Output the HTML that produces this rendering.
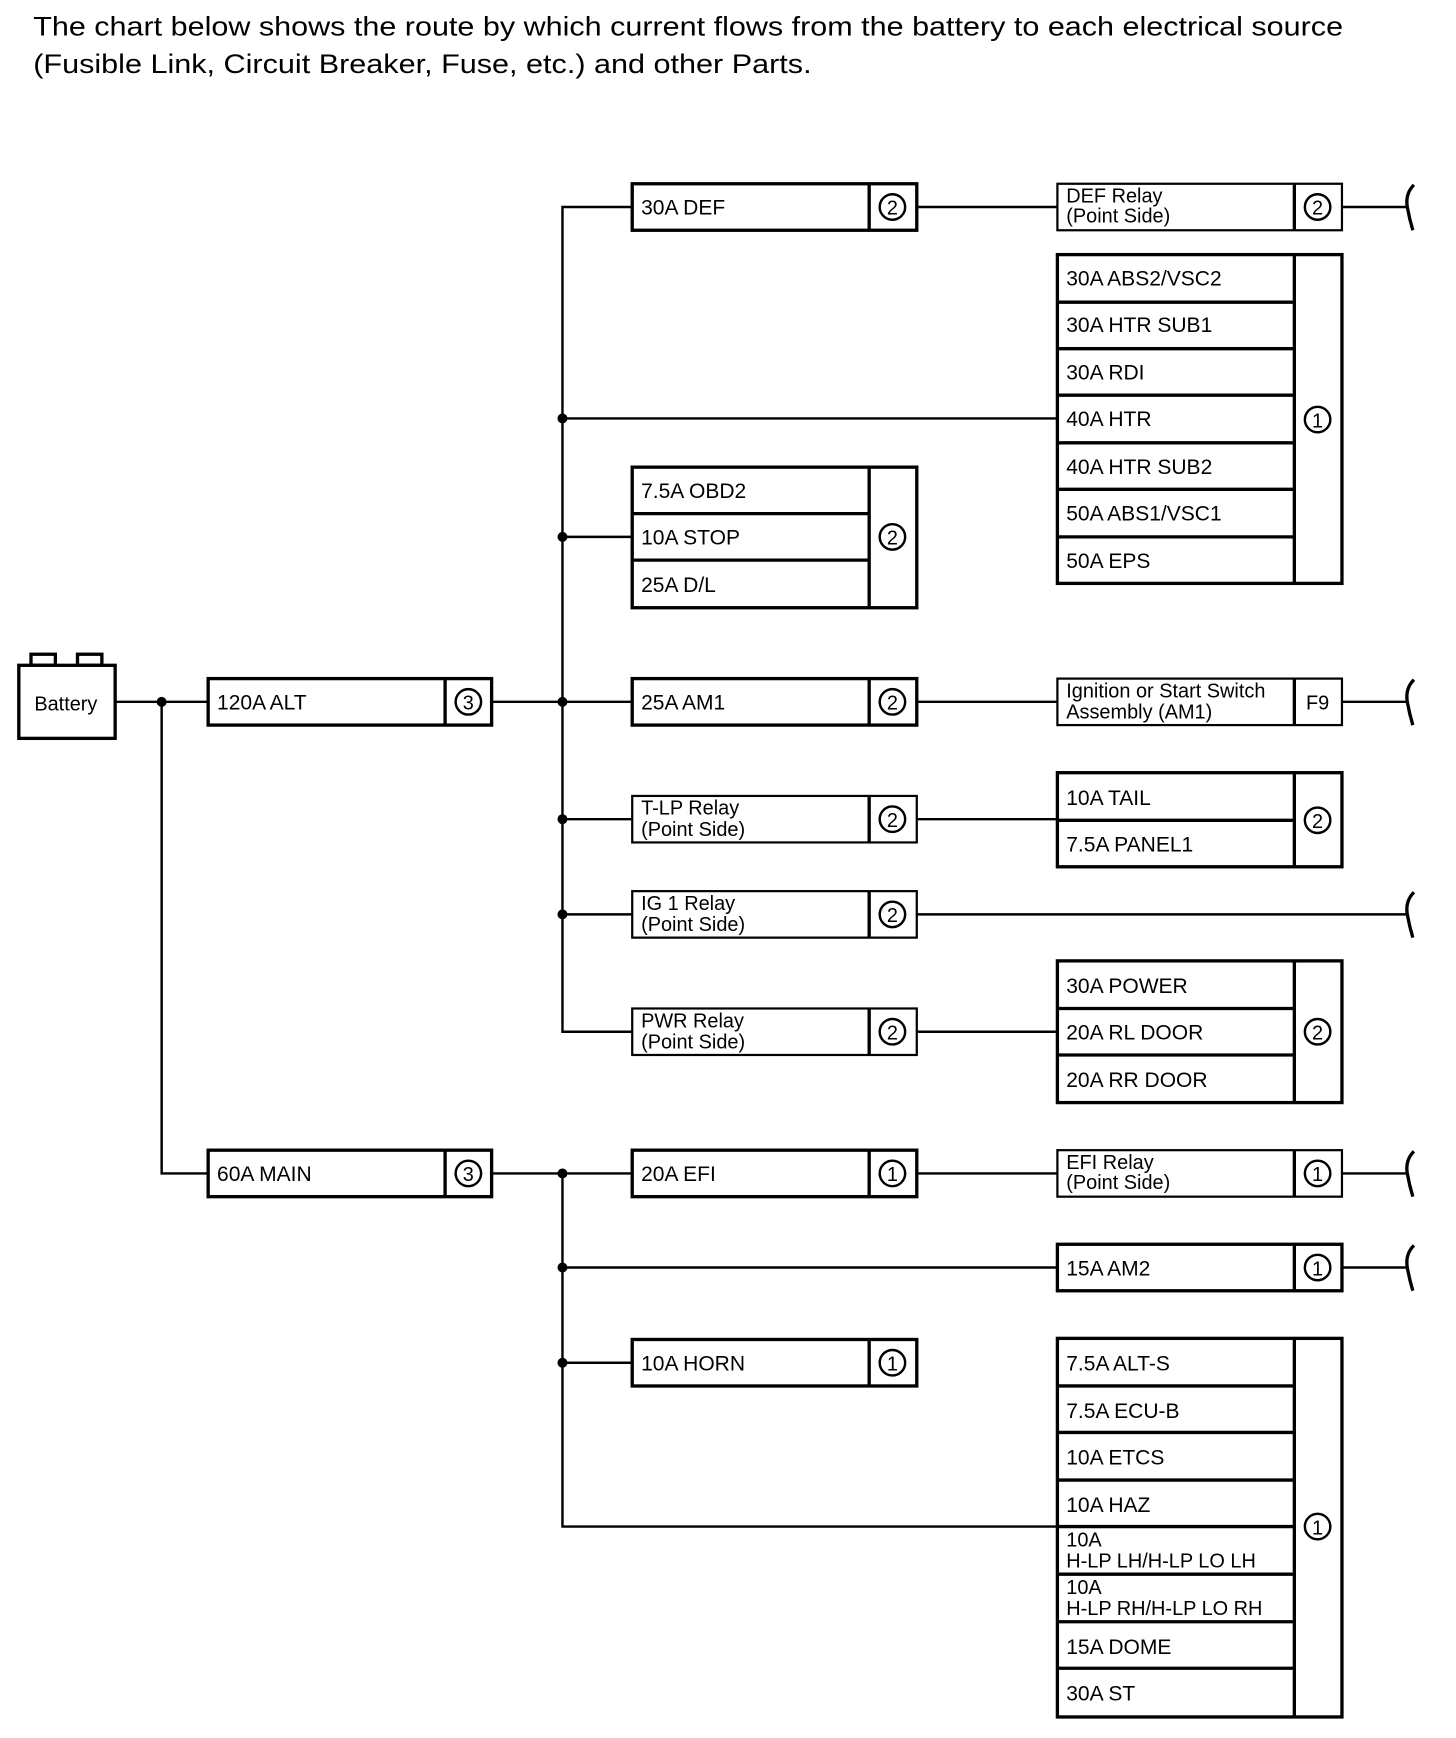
<!DOCTYPE html>
<html><head><meta charset="utf-8"><style>
html,body{margin:0;padding:0;background:#fff;}
svg{display:block;}
text{font-family:"Liberation Sans",Arial,sans-serif;fill:#000;}
</style></head><body>
<svg width="1456" height="1738" viewBox="0 0 1315 1570" preserveAspectRatio="none" xmlns="http://www.w3.org/2000/svg">
<text x="30" y="32" font-size="24" textLength="1183" lengthAdjust="spacingAndGlyphs">The chart below shows the route by which current flows from the battery to each electrical source</text>
<text x="30" y="66" font-size="24" textLength="703" lengthAdjust="spacingAndGlyphs">(Fusible Link, Circuit Breaker, Fuse, etc.) and other Parts.</text>

<g stroke="#000" stroke-width="2.2" fill="none">
<line x1="104" y1="634" x2="188" y2="634"/>
<polyline points="146,634 146,1060 188,1060"/>
<line x1="444" y1="634" x2="571" y2="634"/>
<polyline points="571,187 508,187 508,932 571,932"/>
<line x1="508" y1="378" x2="955" y2="378"/>
<line x1="508" y1="485" x2="571" y2="485"/>
<line x1="508" y1="740" x2="571" y2="740"/>
<line x1="508" y1="826" x2="571" y2="826"/>
<line x1="828" y1="187" x2="955" y2="187"/>
<line x1="1212" y1="187" x2="1270" y2="187"/>
<line x1="828" y1="634" x2="955" y2="634"/>
<line x1="1212" y1="634" x2="1270" y2="634"/>
<line x1="828" y1="740" x2="955" y2="740"/>
<line x1="828" y1="826" x2="1270" y2="826"/>
<line x1="828" y1="932" x2="955" y2="932"/>
<line x1="444" y1="1060" x2="571" y2="1060"/>
<polyline points="508,1060 508,1379 955,1379"/>
<line x1="828" y1="1060" x2="955" y2="1060"/>
<line x1="1212" y1="1060" x2="1270" y2="1060"/>
<line x1="508" y1="1145" x2="955" y2="1145"/>
<line x1="1212" y1="1145" x2="1270" y2="1145"/>
<line x1="508" y1="1231" x2="571" y2="1231"/>
</g>
<g stroke="#000" stroke-width="3" fill="none">
<path d="M1277,167 Q1269,175 1271,187 Q1273,198 1276,208"/>
<path d="M1277,614 Q1269,622 1271,634 Q1273,645 1276,655"/>
<path d="M1277,806 Q1269,814 1271,826 Q1273,837 1276,847"/>
<path d="M1277,1040 Q1269,1048 1271,1060 Q1273,1071 1276,1081"/>
<path d="M1277,1125 Q1269,1133 1271,1145 Q1273,1156 1276,1166"/>
</g>
<g fill="#000">
<circle cx="146" cy="634" r="4.5"/>
<circle cx="508" cy="378" r="4.5"/>
<circle cx="508" cy="485" r="4.5"/>
<circle cx="508" cy="634" r="4.5"/>
<circle cx="508" cy="740" r="4.5"/>
<circle cx="508" cy="826" r="4.5"/>
<circle cx="508" cy="1060" r="4.5"/>
<circle cx="508" cy="1145" r="4.5"/>
<circle cx="508" cy="1231" r="4.5"/>
</g>

<g stroke="#000" stroke-width="3" fill="#fff">
<rect x="28" y="591" width="22" height="10"/>
<rect x="70" y="591" width="22" height="10"/>
<rect x="17" y="601" width="87" height="66"/>
</g>
<text x="31" y="642" font-size="18">Battery</text>

<g stroke="#000" stroke-width="3" fill="#fff">
<rect x="188" y="613" width="256" height="42"/><line x1="402" y1="613" x2="402" y2="655"/>
<rect x="188" y="1039" width="256" height="42"/><line x1="402" y1="1039" x2="402" y2="1081"/>
<rect x="571" y="166" width="257" height="42"/><line x1="785" y1="166" x2="785" y2="208"/>
<rect x="571" y="422" width="257" height="127"/><line x1="785" y1="422" x2="785" y2="549"/>
<line x1="571" y1="464" x2="785" y2="464"/><line x1="571" y1="506" x2="785" y2="506"/>
<rect x="571" y="613" width="257" height="42"/><line x1="785" y1="613" x2="785" y2="655"/>
<rect x="571" y="719" width="257" height="42" stroke-width="2"/><line x1="785" y1="719" x2="785" y2="761"/>
<rect x="571" y="805" width="257" height="42" stroke-width="2"/><line x1="785" y1="805" x2="785" y2="847"/>
<rect x="571" y="911" width="257" height="42" stroke-width="2"/><line x1="785" y1="911" x2="785" y2="953"/>
<rect x="571" y="1039" width="257" height="42"/><line x1="785" y1="1039" x2="785" y2="1081"/>
<rect x="571" y="1210" width="257" height="42"/><line x1="785" y1="1210" x2="785" y2="1252"/>
<rect x="955" y="166" width="257" height="42" stroke-width="2"/><line x1="1169" y1="166" x2="1169" y2="208"/>
<rect x="955" y="230" width="257" height="297"/><line x1="1169" y1="230" x2="1169" y2="527"/>
<line x1="955" y1="273" x2="1169" y2="273"/><line x1="955" y1="315" x2="1169" y2="315"/>
<line x1="955" y1="357" x2="1169" y2="357"/><line x1="955" y1="400" x2="1169" y2="400"/>
<line x1="955" y1="442" x2="1169" y2="442"/><line x1="955" y1="485" x2="1169" y2="485"/>
<rect x="955" y="613" width="257" height="42" stroke-width="2"/><line x1="1169" y1="613" x2="1169" y2="655"/>
<rect x="955" y="698" width="257" height="85"/><line x1="1169" y1="698" x2="1169" y2="783"/>
<line x1="955" y1="741" x2="1169" y2="741"/>
<rect x="955" y="868" width="257" height="128"/><line x1="1169" y1="868" x2="1169" y2="996"/>
<line x1="955" y1="911" x2="1169" y2="911"/><line x1="955" y1="953" x2="1169" y2="953"/>
<rect x="955" y="1039" width="257" height="42" stroke-width="2"/><line x1="1169" y1="1039" x2="1169" y2="1081"/>
<rect x="955" y="1124" width="257" height="42"/><line x1="1169" y1="1124" x2="1169" y2="1166"/>
<rect x="955" y="1209" width="257" height="342"/><line x1="1169" y1="1209" x2="1169" y2="1551"/>
<line x1="955" y1="1252" x2="1169" y2="1252"/><line x1="955" y1="1294" x2="1169" y2="1294"/>
<line x1="955" y1="1337" x2="1169" y2="1337"/><line x1="955" y1="1379" x2="1169" y2="1379"/>
<line x1="955" y1="1422" x2="1169" y2="1422"/><line x1="955" y1="1465" x2="1169" y2="1465"/>
<line x1="955" y1="1507" x2="1169" y2="1507"/>
</g>

<g stroke="#000" stroke-width="2.2" fill="none">
<circle cx="423" cy="634" r="11.5"/><circle cx="423" cy="1060" r="11.5"/>
<circle cx="806" cy="187" r="11.5"/><circle cx="806" cy="485" r="11.5"/><circle cx="806" cy="634" r="11.5"/>
<circle cx="806" cy="740" r="11.5"/><circle cx="806" cy="826" r="11.5"/><circle cx="806" cy="932" r="11.5"/>
<circle cx="806" cy="1060" r="11.5"/><circle cx="806" cy="1231" r="11.5"/>
<circle cx="1190" cy="187" r="11.5"/><circle cx="1190" cy="379" r="11.5"/><circle cx="1190" cy="741" r="11.5"/>
<circle cx="1190" cy="932" r="11.5"/><circle cx="1190" cy="1060" r="11.5"/><circle cx="1190" cy="1145" r="11.5"/>
<circle cx="1190" cy="1379" r="11.5"/>
</g>
<g font-size="18" text-anchor="middle">
<text x="423" y="641">3</text><text x="423" y="1067">3</text>
<text x="806" y="194">2</text><text x="806" y="492">2</text><text x="806" y="641">2</text>
<text x="806" y="747">2</text><text x="806" y="833">2</text><text x="806" y="939">2</text>
<text x="806" y="1067">1</text><text x="806" y="1238">1</text>
<text x="1190" y="194">2</text><text x="1190" y="386">1</text><text x="1190" y="748">2</text>
<text x="1190" y="939">2</text><text x="1190" y="1067">1</text><text x="1190" y="1152">1</text>
<text x="1190" y="1386">1</text>
<text x="1190" y="641">F9</text>
</g>

<g font-size="19">
<text x="196" y="641">120A ALT</text>
<text x="196" y="1067">60A MAIN</text>
<text x="579" y="194">30A DEF</text>
<text x="579" y="450">7.5A OBD2</text>
<text x="579" y="492">10A STOP</text>
<text x="579" y="535">25A D/L</text>
<text x="579" y="641">25A AM1</text>
<text x="579" y="1067">20A EFI</text>
<text x="579" y="1238">10A HORN</text>
<text x="963" y="258">30A ABS2/VSC2</text>
<text x="963" y="300">30A HTR SUB1</text>
<text x="963" y="343">30A RDI</text>
<text x="963" y="385">40A HTR</text>
<text x="963" y="428">40A HTR SUB2</text>
<text x="963" y="470">50A ABS1/VSC1</text>
<text x="963" y="513">50A EPS</text>
<text x="963" y="727">10A TAIL</text>
<text x="963" y="769">7.5A PANEL1</text>
<text x="963" y="897">30A POWER</text>
<text x="963" y="939">20A RL DOOR</text>
<text x="963" y="982">20A RR DOOR</text>
<text x="963" y="1152">15A AM2</text>
<text x="963" y="1238">7.5A ALT-S</text>
<text x="963" y="1281">7.5A ECU-B</text>
<text x="963" y="1323">10A ETCS</text>
<text x="963" y="1366">10A HAZ</text>
<text x="963" y="1494">15A DOME</text>
<text x="963" y="1536">30A ST</text>
</g>
<g font-size="18">
<text x="963" y="1397">10A</text><text x="963" y="1416">H-LP LH/H-LP LO LH</text>
<text x="963" y="1440">10A</text><text x="963" y="1459">H-LP RH/H-LP LO RH</text>
<text x="963" y="183">DEF Relay</text><text x="963" y="201">(Point Side)</text>
<text x="963" y="630">Ignition or Start Switch</text><text x="963" y="649">Assembly (AM1)</text>
<text x="963" y="1056">EFI Relay</text><text x="963" y="1074">(Point Side)</text>
<text x="579" y="736">T-LP Relay</text><text x="579" y="755">(Point Side)</text>
<text x="579" y="822">IG 1 Relay</text><text x="579" y="841">(Point Side)</text>
<text x="579" y="928">PWR Relay</text><text x="579" y="947">(Point Side)</text>
</g>
</svg>
</body></html>
